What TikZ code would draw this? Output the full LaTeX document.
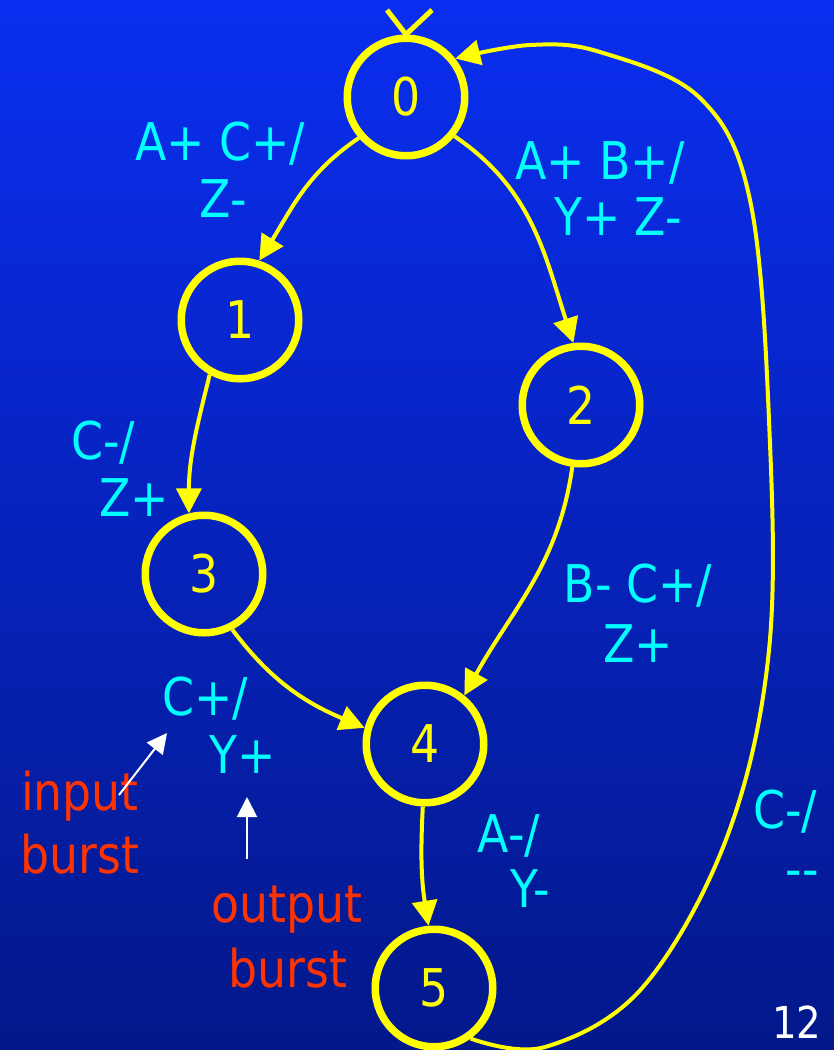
\documentclass[tikz,border=0pt]{standalone}
\usepackage{fontspec}
\setmainfont{DejaVu Sans}[FakeStretch=0.88]
\usetikzlibrary{arrows.meta}
\definecolor{bgtop}{RGB}{10,46,240}
\definecolor{bgbot}{RGB}{3,24,138}
\definecolor{stateyellow}{RGB}{255,255,0}
\definecolor{labcyan}{RGB}{0,255,255}
\definecolor{notered}{RGB}{255,51,0}
\begin{document}
\begin{tikzpicture}[x=1pt,y=1pt,
  state/.style={circle, draw=stateyellow, line width=7.5pt, minimum size=117.5pt,
    inner sep=0pt, text=stateyellow, font=\fontsize{52}{60}\selectfont},
  trans/.style={draw=stateyellow, line width=4pt, line join=round, -{Triangle[length=25pt,width=25pt]}},
  lab/.style={text=labcyan, font=\fontsize{52}{60}\selectfont, anchor=base, inner sep=0pt},
  note/.style={text=notered, font=\fontsize{52}{60}\selectfont, anchor=base, inner sep=0pt},
  pointer/.style={draw=white, line width=2pt, -{Triangle[length=20pt,width=20pt]}},
  pagenum/.style={text=white, font=\fontsize{44}{50}\selectfont, anchor=base, inner sep=0pt}]
\useasboundingbox (0,0) rectangle (834,-1050);
\shade[top color=bgtop, bottom color=bgbot] (0,0) rectangle (834,-1050);

% states
\node[state] (n0) at (406,-97) {0};
\node[state] (n1) at (240,-320) {1};
\node[state] (n2) at (581,-405) {2};
\node[state] (n3) at (204,-574) {3};
\node[state] (n4) at (425,-744) {4};
\node[state] (n5) at (434,-988) {5};

% initial marker
\coordinate (vl) at (387,-10);
\coordinate (vr) at (432,-10);
\draw[stateyellow, line width=5pt] (vl) -- (n0.north) -- (vr);

% transitions
\draw[trans] (n0.221) to[out=214,in=58] (n1.72);
\draw[trans] (n0.-39) to[out=-34,in=108] (n2.97);
\draw[trans] (n1.-119) to[out=256,in=90] (n3.104);
\draw[trans] (n2.-98) to[out=-98,in=61] (n4.51);
\draw[trans] (n3.-63) to[out=-53,in=157] (n4.165);
\draw[trans] (n4.-92) to[out=-93,in=99] (n5.95);

% return transition 5 -> 0
\coordinate (w0) at (545,-1047);
\coordinate (w1) at (643,-987);
\coordinate (w2) at (727,-837);
\coordinate (w3) at (769,-650);
\coordinate (w4) at (769,-420);
\coordinate (w5) at (750,-200);
\coordinate (w6) at (700,-98);
\coordinate (w7) at (600,-52);
\coordinate (w8) at (530,-45);
\draw[trans] plot[smooth, tension=0.6] coordinates {(n5.-54) (w0) (w1) (w2) (w3) (w4) (w5) (w6) (w7) (w8) (n0.38)};

% labels
\node[lab] (l01a) at (220,-160) {A+ C+/};
\node[lab] (l01b) at (223,-217) {Z-};
\node[lab] (l02a) at (600,-179) {A+ B+/};
\node[lab] (l02b) at (618,-235) {Y+ Z-};
\node[lab] (l13a) at (103,-459) {C-/};
\node[lab] (l13b) at (134,-516) {Z+};
\node[lab] (l24a) at (638,-602) {B- C+/};
\node[lab] (l24b) at (638,-662) {Z+};
\node[lab] (l34a) at (205,-715) {C+/};
\node[lab] (l34b) at (243,-773) {Y+};
\node[lab] (l45a) at (509,-852) {A-/};
\node[lab] (l45b) at (530,-907) {Y-};
\node[lab] (l50a) at (785,-828) {C-/};
\node[lab] (l50b) at (802,-887) {-{}-};

% notes
\node[note] (in1) at (80,-810) {input};
\node[note] (in2) at (80,-873) {burst};
\node[note] (out1) at (287,-922) {output};
\node[note] (out2) at (288,-987) {burst};

\coordinate (ip0) at (119,-795);
\coordinate (ip1) at (167,-733);
\draw[pointer] (ip0) -- (ip1);
\coordinate (op0) at (247,-859);
\coordinate (op1) at (247,-797);
\draw[pointer] (op0) -- (op1);

\node[pagenum] (pg) at (797,-1038) {12};
\end{tikzpicture}
\end{document}
